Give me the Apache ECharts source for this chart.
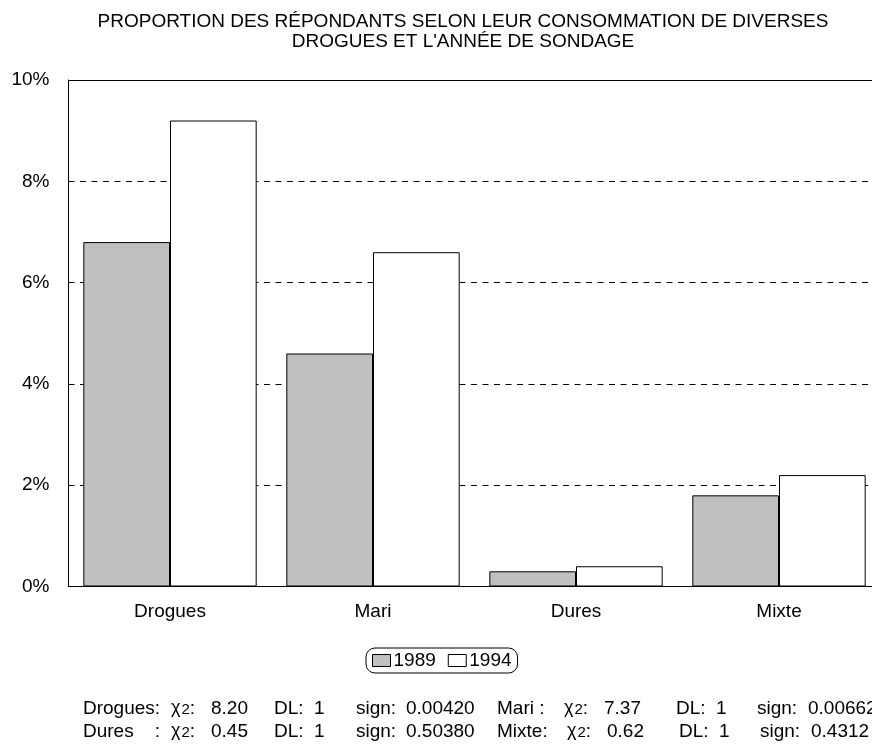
<!DOCTYPE html>
<html><head><meta charset="utf-8">
<script src="https://cdn.jsdelivr.net/npm/echarts@6/dist/echarts.min.js"></script>
<style>html,body{margin:0;padding:0;background:#fff;overflow:hidden;width:872px;height:746px}#c{width:890px;height:746px}</style>
</head><body><div id="c"></div>
<script>
var categories = ['Drogues', 'Mari', 'Dures', 'Mixte'];
var values1989 = [6.8, 4.6, 0.3, 1.8];
var values1994 = [9.2, 6.6, 0.4, 2.2];
var yTicks = [0, 2, 4, 6, 8, 10];
var statNames = ['Drogues:', 'Mari :', 'Dures    :', 'Mixte:'];
var statChi = ['8.20', '7.37', '0.45', '0.62'];
var statDL = ['1', '1', '1', '1'];
var statSign = ['0.00420', '0.00662', '0.50380', '0.4312'];

var FONT = '"Liberation Sans", Arial, Helvetica, sans-serif';
var FS = 19;
var chart = echarts.init(document.getElementById('c'));

var graphics = [];
function txt(x, y, s) {
  graphics.push({type:'text', left:x, top:y, style:{text:s, font:FS + 'px ' + FONT, fill:'#000'}});
}
function chiTxt(x, y) {
  graphics.push({type:'text', left:x, top:y, style:{text:'{c|χ}{s|2}{n|:}', fill:'#000',
    rich:{c:{fontSize:18, fontFamily:FONT}, s:{fontSize:15, fontFamily:FONT, padding:[3,0,0,1]}, n:{fontSize:FS, fontFamily:FONT}}}});
}
// column x positions for each group: name, chi, chi value, DL, DL value, sign, sign value
var cols = [[83, 171, 211, 274, 314, 356, 406], [497, 564, 604, 676, 716, 757, 808]];
var rowY = [699, 722];
var rowShift = [0, 3];
[[0, 1], [2, 3]].forEach(function (r, ri) {
  r.forEach(function (idx, gi) {
    var c = cols[gi], y = rowY[ri];
    var sh = gi === 1 ? rowShift[ri] : 0;
    txt(c[0], y, statNames[idx]);
    chiTxt(c[1] + sh, y);
    txt(c[2] + sh, y, statChi[idx]);
    txt(c[3] + sh, y, 'DL:');
    txt(c[4] + sh, y, statDL[idx]);
    txt(c[5] + sh, y, 'sign:');
    txt(c[6] + sh, y, statSign[idx]);
  });
});

chart.setOption({
  animation: false,
  backgroundColor: '#fff',
  title: {
    text: 'PROPORTION DES RÉPONDANTS SELON LEUR CONSOMMATION DE DIVERSES\nDROGUES ET L\'ANNÉE DE SONDAGE',
    left: 458, top: 7, textAlign: 'center',
    textStyle: {fontFamily: FONT, fontSize: 19, fontWeight: 'normal', color: '#000', lineHeight: 20}
  },
  legend: {
    data: ['1989', '1994'], top: 648, left: 366, icon: 'rect',
    borderColor: '#000', borderWidth: 1, borderRadius: 9, padding: [3, 6, 3, 6],
    itemWidth: 18, itemHeight: 12, itemGap: 12,
    itemStyle: {borderWidth: 1, borderColor: '#000'},
    textStyle: {fontFamily: FONT, fontSize: FS, color: '#000', padding: [0, 0, 0, -2]}
  },
  grid: {left: 68.5, width: 812, top: 80, bottom: 159.5, containLabel: false},
  xAxis: [{
    type: 'category', data: categories,
    axisLine: {lineStyle: {color: '#000', width: 1}},
    axisTick: {show: false},
    axisLabel: {fontFamily: FONT, fontSize: FS, color: '#000', margin: 16}
  }, {
    type: 'category', data: categories, position: 'top',
    axisLine: {show: true, lineStyle: {color: '#000', width: 1}},
    axisTick: {show: false}, axisLabel: {show: false}
  }],
  yAxis: {
    type: 'value', min: 0, max: 10, interval: 2,
    axisLine: {show: true, lineStyle: {color: '#000', width: 1}},
    axisTick: {show: true, inside: true, length: 5, lineStyle: {color: '#000'}},
    axisLabel: {fontFamily: FONT, fontSize: FS, color: '#000', margin: 19,
      formatter: function (v) { return yTicks.indexOf(v) >= 0 ? v + '%' : ''; }},
    splitLine: {show: true, lineStyle: {color: '#000', width: 1, type: [6, 5.5]}}
  },
  series: [{
    name: '1989', type: 'bar', data: values1989, barGap: '0%', barCategoryGap: '14.6%',
    itemStyle: {color: '#c0c0c0', borderColor: '#000', borderWidth: 1}
  }, {
    name: '1994', type: 'bar', data: values1994,
    itemStyle: {color: '#fff', borderColor: '#000', borderWidth: 1}
  }],
  graphic: graphics
});
</script></body></html>
